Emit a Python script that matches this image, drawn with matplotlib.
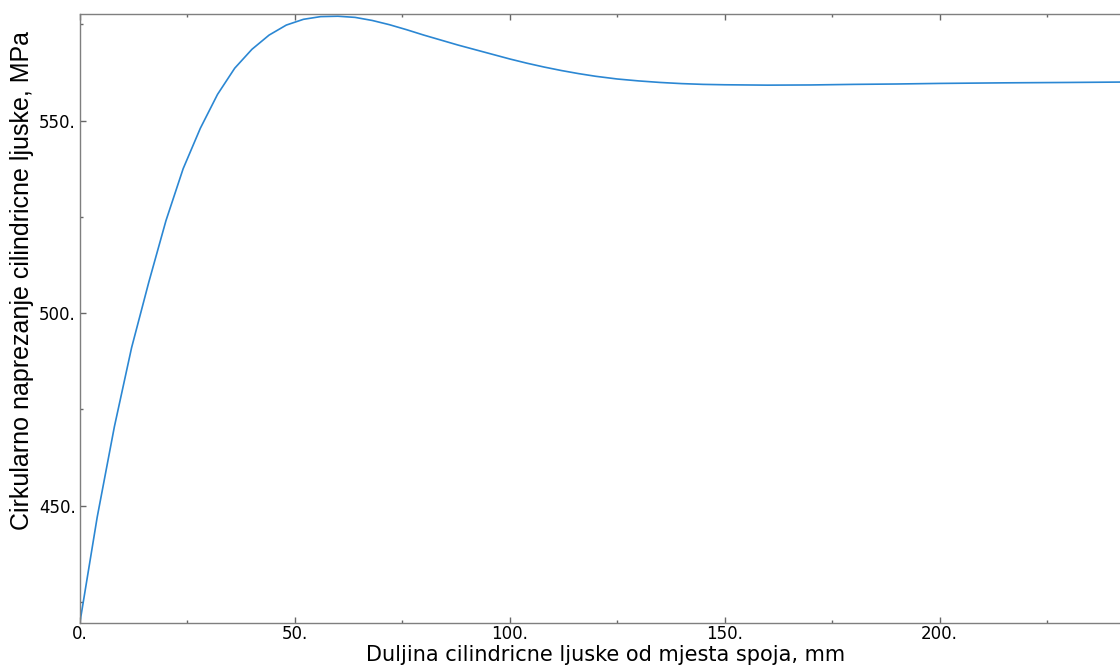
import matplotlib.pyplot as plt

# stress along the shell
x_mm = [0, 4, 8, 12, 16, 20, 24, 28, 32, 36, 40, 44, 48, 52, 56, 60,
        64, 68, 72, 76, 80, 84, 88, 92, 96, 100, 104, 108, 112, 116, 120,
        125, 130, 135, 140, 145, 150, 160, 170, 180, 190, 200, 215, 230, 242]
stress = [419.8, 447.0, 470.5, 491.0, 508.0, 524.0, 537.5, 548.0, 556.8, 563.6,
          568.5, 572.2, 574.8, 576.3, 577.0, 577.1,
          576.8, 576.0, 574.9, 573.6, 572.2, 570.9, 569.6, 568.4, 567.2, 566.0,
          564.9, 563.9, 563.0, 562.2, 561.5,
          560.8, 560.3, 559.9, 559.6, 559.4, 559.3, 559.2, 559.25, 559.4, 559.5,
          559.65, 559.8, 559.9, 560.0]

xticks = [0, 50, 100, 150, 200]
xtick_labels = ["0.", "50.", "100.", "150.", "200."]
yticks = [450, 500, 550]
ytick_labels = ["450.", "500.", "550."]

fig = plt.figure(figsize=(11.2, 6.67), dpi=100)
ax = fig.add_axes([80 / 1120, 1 - 622.7 / 667, 1040 / 1120, (622.7 - 14.3) / 667])

ax.plot(x_mm, stress, color="#2b87d3", lw=1.2)

ax.set_xlim(0, 242)
ax.set_ylim(419.6, 577.6)

ax.set_xticks(xticks, xtick_labels)
ax.set_yticks(yticks, ytick_labels)
ax.set_xticks([25, 75, 125, 175, 225], minor=True)
ax.set_yticks([425, 475, 525, 575], minor=True)

ax.tick_params(which="both", direction="in", top=True, right=False,
               color="#666666", labelsize=12)
ax.tick_params(which="major", length=4, width=1)
ax.tick_params(which="minor", length=2, width=1)
ax.tick_params(axis="x", pad=2)
ax.tick_params(axis="y", pad=3)

for side in ["left", "bottom", "top"]:
    ax.spines[side].set_color("#7f7f7f")
    ax.spines[side].set_linewidth(1)
ax.spines["right"].set_visible(False)

ax.set_xlabel("Duljina cilindricne ljuske od mjesta spoja, mm", fontsize=15)
ax.xaxis.set_label_coords(0.505, -0.053)
ax.xaxis.label.set_verticalalignment("center")

ax.set_ylabel("Cirkularno naprezanje cilindricne ljuske, MPa", fontsize=18,
              family=["Liberation Sans", "DejaVu Sans"])
ax.yaxis.set_label_coords(-0.0558, 0.563)
ax.yaxis.label.set_verticalalignment("center")

fig.savefig("out.png", dpi=100)
